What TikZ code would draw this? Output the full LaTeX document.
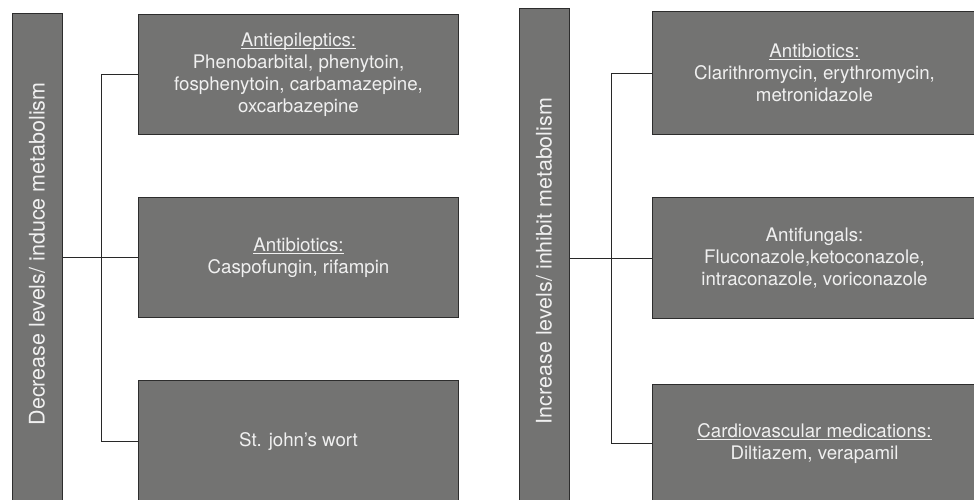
\documentclass[tikz,border=0pt]{standalone}
\usepackage{fontspec}
\setmainfont{TeX Gyre Heros}
\usepackage{tikz}
\usetikzlibrary{positioning, calc}
\definecolor{boxgray}{RGB}{115,115,114}
\definecolor{boxedge}{RGB}{45,45,45}
\definecolor{boxtext}{RGB}{240,240,240}
\definecolor{linkgray}{RGB}{40,40,40}
\newsavebox{\hdrbox}
\newcommand{\hdr}[1]{\sbox{\hdrbox}{#1}\rlap{\rule[-2.6pt]{\wd\hdrbox}{0.9pt}}\usebox{\hdrbox}}
\tikzset{
  sidebar/.style={rectangle, draw=boxedge, fill=boxgray, line width=1pt,
    minimum width=50pt, inner sep=0pt},
  sidetitle/.style={rotate=90, text=boxtext, inner sep=0pt,
    font=\fontsize{21.5}{24}\selectfont},
  drugbox/.style={rectangle, draw=boxedge, fill=boxgray, line width=1pt,
    align=center, inner sep=0pt, text=boxtext,
    font=\fontsize{18.7}{22}\selectfont},
  link/.style={line width=0.9pt, color=linkgray}
}

\begin{document}
\begin{tikzpicture}[x=1pt, y=-1pt]
  \useasboundingbox (0,0) rectangle (974,500);

  % Left panel: induce metabolism
  \node[sidebar, minimum height=489pt, anchor=north west] (lbar) at (12,13) {};
  \node[sidetitle] (ltitle) at (37,254) {Decrease levels/ induce metabolism};
  \node[drugbox, minimum width=320pt, minimum height=120pt, anchor=north west] (lb1) at (138,14)
    {\hdr{Antiepileptics:}\\Phenobarbital, phenytoin,\\fosphenytoin, carbamazepine,\\oxcarbazepine};
  \node[drugbox, minimum width=320pt, minimum height=120pt, anchor=north west] (lb2) at (138,197)
    {\hdr{Antibiotics:}\\Caspofungin, rifampin};
  \node[drugbox, minimum width=320pt, minimum height=122pt, anchor=north west] (lb3) at (138,380)
    {St. john’s wort};

  \draw[link] (lbar.east |- lb2.west) -- (lb2.west);
  \draw[link] (lb1.west) -- ++(-37,0) |- (lb3.west);

  % Right panel: inhibit metabolism
  \node[sidebar, minimum height=494pt, anchor=north west] (rbar) at (519,8) {};
  \node[sidetitle] (rtitle) at (544,261) {Increase levels/ inhibit metabolism};
  \node[drugbox, minimum width=324pt, minimum height=123pt, anchor=north west] (rb1) at (652,11)
    {\hdr{Antibiotics:}\\Clarithromycin, erythromycin,\\metronidazole};
  \node[drugbox, minimum width=324pt, minimum height=121pt, anchor=north west] (rb2) at (652,197)
    {Antifungals:\\Fluconazole,ketoconazole,\\intraconazole, voriconazole};
  \node[drugbox, minimum width=324pt, minimum height=118pt, anchor=north west] (rb3) at (652,384)
    {\hdr{Cardiovascular medications:}\\Diltiazem, verapamil};

  \draw[link] (rbar.east |- rb2.west) -- (rb2.west);
  \draw[link] (rb1.west) -- ++(-41,0) |- (rb3.west);
\end{tikzpicture}
\end{document}
